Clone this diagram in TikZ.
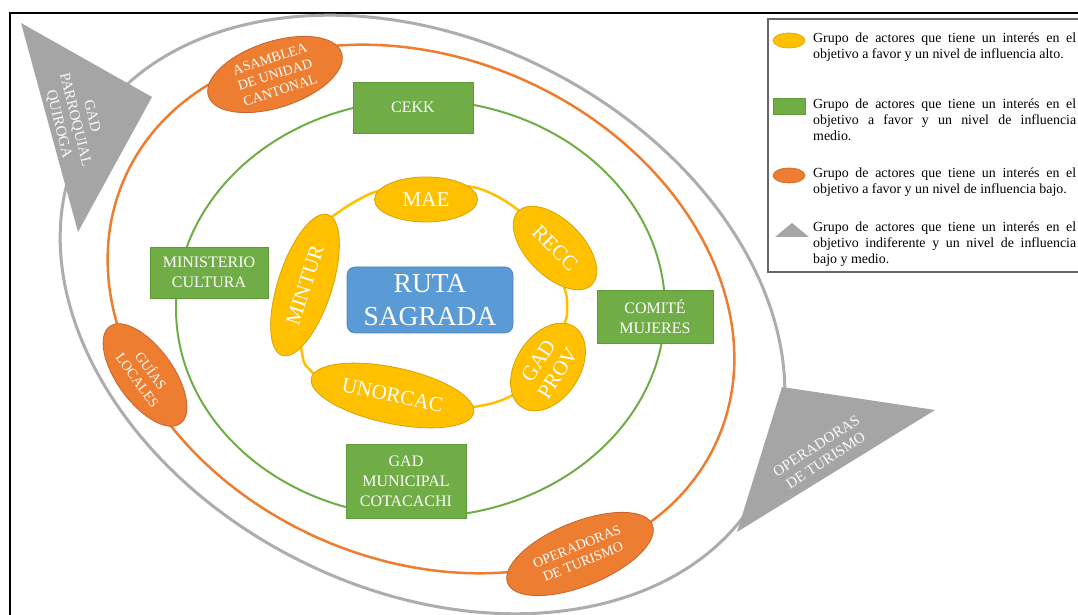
\documentclass[tikz,border=0pt]{standalone}
\usepackage{fontspec}
\setmainfont{Liberation Serif}
\usetikzlibrary{shapes.geometric}
\definecolor{yelc}{HTML}{FFC000}
\definecolor{yeld}{HTML}{D9A300}
\definecolor{grnc}{HTML}{70AD47}
\definecolor{grnd}{HTML}{5E9A3A}
\definecolor{orgc}{HTML}{ED7D31}
\definecolor{orgd}{HTML}{C9642A}
\definecolor{gryc}{HTML}{A5A5A5}
\definecolor{ringg}{HTML}{ADADAD}
\definecolor{bluc}{HTML}{5B9BD5}
\begin{document}
\begin{tikzpicture}[x=1pt,y=1pt,
 yelnode/.style={ellipse, fill=yelc, draw=yeld, line width=0.8pt, text=white, inner sep=0pt, align=center, font=\fontsize{21}{23}\selectfont},
 grnnode/.style={rectangle, fill=grnc, draw=grnd, line width=0.8pt, text=white, inner sep=0pt, align=center, font=\fontsize{16}{20}\selectfont},
 orgnode/.style={ellipse, fill=orgc, draw=orgd, line width=0.8pt, text=white, inner sep=0pt, align=center, font=\fontsize{14}{16.5}\selectfont},
 trilabel/.style={text=white!95!gray, inner sep=0pt, align=center, font=\fontsize{15}{17}\selectfont},
 legtext/.style={anchor=north west, inner sep=0pt, text width=263pt, align=justify, font=\fontsize{13.9}{16}\selectfont},
 ring/.style={line width=2.5pt}
]
\clip (0,0) rectangle (1078,615);
\fill[white] (0,0) rectangle (1078,615);
% frame
\draw[black, line width=2pt] (10,602) rectangle (1100,-20);
% rings
\draw[ring, ringg, line width=3pt, rotate around={-26.6:(422.5,300.5)}] (422.5,300.5) ellipse [x radius=381, y radius=275];
\draw[ring, orgc, rotate around={-23.8:(421,306)}] (421,306) ellipse [x radius=324, y radius=251];
\draw[ring, grnc, line width=2pt] (420.5,306.5) ellipse [x radius=244.5, y radius=208.5];
\draw[ring, yelc] plot[smooth cycle, tension=0.55] coordinates {(375,423) (430,429) (477,427) (518,405) (548,370) (565,325) (567,309) (565,293) (545,247) (513,220) (473,208) (400,205) (340,223) (310,245) (302,262) (296,325) (310,370) (328,395)};
% gray triangles
\fill[gryc] (21,592) -- (152,518) -- (78,383) -- cycle;
\node[trilabel, rotate=-76] (gadpq) at (75,495) {GAD\\PARROQUIAL\\QUIROGA};
\fill[gryc] (782,228) -- (935,205) -- (737,83) -- cycle;
\node[trilabel, rotate=33] (opgray) at (821,162) {OPERADORAS\\DE TURISMO};
% center
\node[rectangle, rounded corners=8pt, fill=bluc, draw=bluc!85!black, line width=0.6pt, minimum width=166pt, minimum height=66pt, inner sep=0pt, text=white, align=center, font=\fontsize{27.5}{33}\selectfont] (ruta) at (430,315) {RUTA\\SAGRADA};
% yellow
\node[yelnode, minimum width=103pt, minimum height=45pt] (mae) at (426,415.5) {MAE};
\node[yelnode, rotate=-45, minimum width=104pt, minimum height=56pt] (recc) at (555,367) {RECC};
\node[yelnode, rotate=57, minimum width=96pt, minimum height=64pt] (gadprov) at (548,248) {GAD\\PROV};
\node[yelnode, rotate=-12, minimum width=166pt, minimum height=56pt] (unorcac) at (392.5,219.5) {UNORCAC};
\node[yelnode, rotate=72, minimum width=148pt, minimum height=54pt] (mintur) at (305,330) {MINTUR};
% green
\node[grnnode, minimum width=120pt, minimum height=51pt] (cekk) at (413,507.5) {CEKK};
\node[grnnode, minimum width=118pt, minimum height=51pt] (minis) at (209,342.5) {MINISTERIO\\CULTURA};
\node[grnnode, minimum width=116pt, minimum height=53pt] (comite) at (655,298.5) {COMITÉ\\MUJERES};
\node[grnnode, minimum width=120pt, minimum height=74pt] (gadmun) at (406,134) {GAD\\MUNICIPAL\\COTACACHI};
% orange
\node[orgnode, rotate=18, minimum width=140pt, minimum height=66pt] (asam) at (275,540.5) {ASAMBLEA\\DE UNIDAD\\CANTONAL};
\node[orgnode, rotate=-54, minimum width=120pt, minimum height=56pt] (guias) at (145,240) {GUÍAS\\LOCALES};
\node[orgnode, rotate=22, minimum width=156pt, minimum height=64pt] (operorg) at (580,61) {OPERADORAS\\DE TURISMO};
% legend
\draw[black!60, line width=1.2pt] (768,596) rectangle (1095,343);
\node[ellipse, fill=yelc, draw=yeld, line width=0.6pt, minimum width=32pt, minimum height=15pt, inner sep=0pt] (ly) at (789,574.5) {};
\node[rectangle, fill=grnc, draw=grnd, line width=0.6pt, minimum width=32pt, minimum height=16pt, inner sep=0pt] (lg) at (789,509) {};
\node[ellipse, fill=orgc, draw=orgd, line width=0.6pt, minimum width=32pt, minimum height=15pt, inner sep=0pt] (lo) at (789,439.5) {};
\fill[gryc] (775,378) -- (792,392) -- (809,378) -- cycle;
\node[legtext] (leg1) at (813,582.5) {Grupo de actores que tiene un interés en el\linebreak objetivo a favor y un nivel de influencia alto.};
\node[legtext] (leg2) at (813,516.5) {Grupo de actores que tiene un interés en el\linebreak objetivo a favor y un nivel de influencia\linebreak medio.};
\node[legtext] (leg3) at (813,447.5) {Grupo de actores que tiene un interés en el\linebreak objetivo a favor y un nivel de influencia bajo.};
\node[legtext] (leg4) at (813,393.5) {Grupo de actores que tiene un interés en el\linebreak objetivo indiferente y un nivel de influencia\linebreak bajo y medio.};
\end{tikzpicture}
\end{document}
